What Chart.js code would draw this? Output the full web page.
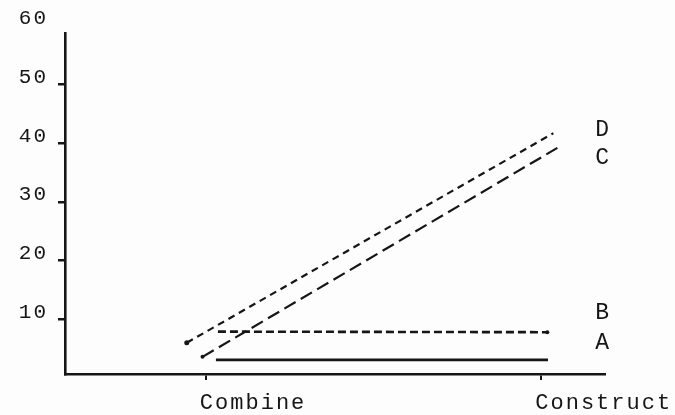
<!DOCTYPE html>
<html>
<head>
<meta charset="utf-8">
<script src="https://cdn.jsdelivr.net/npm/chart.js@4"></script>
<style>
  html, body { margin: 0; padding: 0; background: #fdfdfd; }
  canvas { display: block; }
</style>
</head>
<body>
<canvas id="chart" width="675" height="415"></canvas>
<script>
const categories = ['Combine', 'Construct'];
const yTicks = [10, 20, 30, 40, 50, 60];
const seriesNames = ['A', 'B', 'C', 'D'];

// x is position along the category axis (0 = Combine, 1 = Construct)
const xA = [0.03, 1.02];
const yA = [3.1, 3.1];
const xB = [0.036, 1.018];
const yB = [7.9, 7.8];
const xC = [-0.01, 1.048];
const yC = [3.6, 39.2];
const xD = [-0.057, 1.036];
const yD = [6.0, 41.7];

document.addEventListener('DOMContentLoaded', function () {
  const ink = '#161616';
  const font = "'Liberation Mono', 'DejaVu Sans Mono', monospace";

  function points(xs, ys) {
    return xs.map(function (x, i) { return { x: x, y: ys[i] }; });
  }

  // wide plotter-style lettering for every text on the canvas
  const spacing = {
    id: 'spacing',
    beforeDraw: function (chart) { chart.ctx.letterSpacing = '2px'; }
  };

  // letter beside the right end of each line
  const seriesLabels = {
    id: 'seriesLabels',
    afterDatasetsDraw: function (chart) {
      const ctx = chart.ctx;
      const xScale = chart.scales.x;
      const shift = { A: -17, B: -19, C: 10, D: -3 };
      ctx.save();
      ctx.letterSpacing = '0px';
      ctx.fillStyle = ink;
      ctx.font = '23px ' + font;
      ctx.textAlign = 'center';
      ctx.textBaseline = 'middle';
      chart.data.datasets.forEach(function (ds, i) {
        const meta = chart.getDatasetMeta(i);
        const last = meta.data[meta.data.length - 1];
        ctx.fillText(ds.label, xScale.getPixelForValue(1) + 61, last.y + shift[ds.label]);
      });
      ctx.restore();
    }
  };

  new Chart(document.getElementById('chart'), {
    type: 'line',
    data: {
      datasets: [
        { label: seriesNames[0], data: points(xA, yA), borderWidth: 2.8, borderDash: [], pointRadius: 0 },
        { label: seriesNames[1], data: points(xB, yB), borderWidth: 2.6, borderDash: [8, 4], pointRadius: [0, 2] },
        { label: seriesNames[2], data: points(xC, yC), borderWidth: 2.2, borderDash: [13, 6], pointRadius: [2, 0] },
        { label: seriesNames[3], data: points(xD, yD), borderWidth: 2.2, borderDash: [7, 5], pointRadius: [2.5, 0] }
      ].map(function (ds) {
        ds.borderColor = ink;
        ds.backgroundColor = ink;
        ds.pointBorderWidth = 0;
        ds.tension = 0;
        return ds;
      })
    },
    options: {
      responsive: false,
      animation: false,
      layout: { padding: { top: 33, right: 70, left: 0, bottom: 0 } },
      plugins: { legend: { display: false }, tooltip: { enabled: false } },
      scales: {
        x: {
          type: 'linear',
          min: -0.42,
          max: 1.19,
          afterBuildTicks: function (scale) {
            scale.ticks = categories.map(function (c, i) { return { value: i }; });
          },
          afterFit: function (scale) {
            scale.height = 41;
            scale.paddingLeft = 0;
            scale.paddingRight = 0;
          },
          border: { display: true, color: ink, width: 2.6 },
          grid: { drawOnChartArea: false, drawTicks: true, tickLength: 6, color: ink, lineWidth: 2 },
          ticks: {
            autoSkip: false,
            maxRotation: 0,
            align: 'start',
            labelOffset: -6,
            padding: 10,
            color: ink,
            font: { family: font, size: 22 },
            callback: function (value) { return categories[value]; }
          }
        },
        y: {
          min: 0.68,
          max: 58.77,
          afterBuildTicks: function (scale) {
            scale.ticks = yTicks.map(function (v) { return { value: v }; });
          },
          afterFit: function (scale) {
            scale.width = 65;
            scale.paddingTop = 0;
            scale.paddingBottom = 0;
          },
          border: { display: true, color: ink, width: 2.6 },
          grid: {
            drawOnChartArea: false,
            drawTicks: true,
            tickLength: 7,
            lineWidth: 2.5,
            tickColor: function (c) { return c.tick && c.tick.value === 60 ? 'rgba(0,0,0,0)' : ink; }
          },
          ticks: {
            autoSkip: false,
            labelOffset: -7,
            padding: 10,
            color: ink,
            font: { family: font, size: 21 }
          }
        }
      }
    },
    plugins: [spacing, seriesLabels]
  });
});
</script>
</body>
</html>
